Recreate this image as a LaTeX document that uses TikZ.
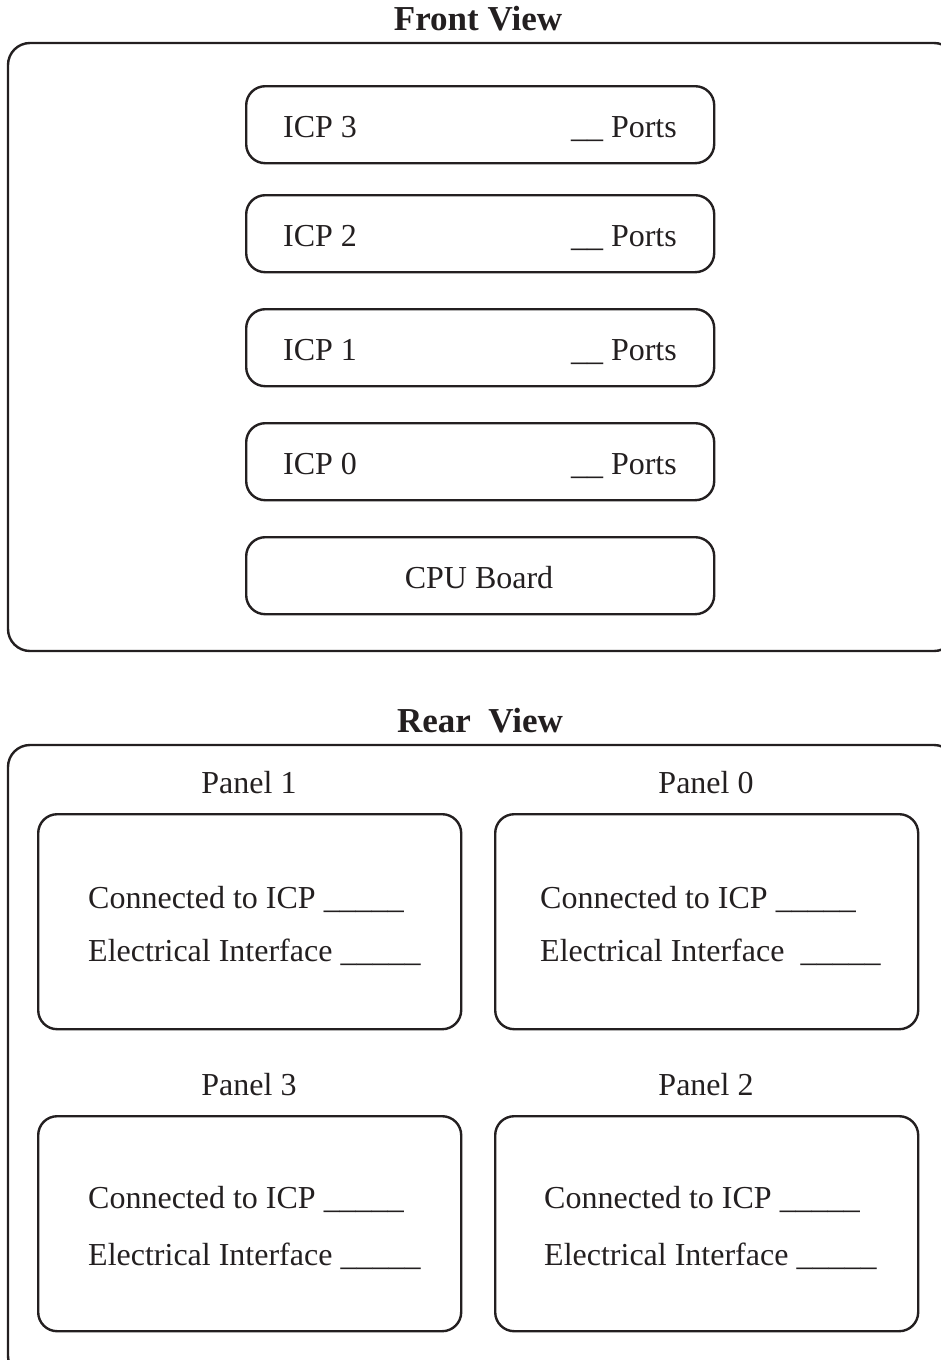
\documentclass[tikz,border=0pt]{standalone}
\usepackage{fontspec}
\setmainfont{Liberation Serif}
\definecolor{ink}{HTML}{231F20}
\begin{document}
\begin{tikzpicture}[x=1pt,y=-1pt,
  outer/.style={draw=ink,line width=2.4pt,rounded corners=22pt},
  box/.style={draw=ink,line width=2.4pt,rounded corners=19pt,inner sep=0pt},
  txt/.style={inner sep=0pt,text=ink,font=\fontsize{32}{38}\selectfont},
  ttl/.style={inner sep=0pt,text=ink,font=\fontsize{35}{42}\selectfont\bfseries}]
\useasboundingbox (0,0) rectangle (941,1360);
% Front view
\node[ttl,anchor=base] (ft) at (478,30) {Front View};
\draw[outer] (8,43) rectangle (956,651);
\foreach \n/\t/\b in {icp3/85/ICP 3,icp2/194/ICP 2,icp1/308/ICP 1,icp0/422/ICP 0}{
  \node[box,minimum width=468pt,minimum height=77pt,anchor=north west] (\n) at (245,\t) {};
  \node[txt,anchor=base west] (\n l) at (283,\t+52) {\b};
  \node[txt,anchor=base east] (\n r) at (677,\t+52) {\_\_ Ports};
}
\node[box,minimum width=468pt,minimum height=77pt,anchor=north west] (cpu) at (245,536) {};
\node[txt,anchor=base] (cpul) at (479,588) {CPU Board};
% Rear view
\node[ttl,anchor=base] (rt) at (480,732) {Rear\ \ View};
\draw[outer] (8,745) rectangle (956,1378);
\node[box,minimum width=423pt,minimum height=215pt,anchor=north west] (p1) at (37,813) {};
\node[box,minimum width=423pt,minimum height=215pt,anchor=north west] (p0) at (494,813) {};
\node[box,minimum width=423pt,minimum height=215pt,anchor=north west] (p3) at (37,1115) {};
\node[box,minimum width=423pt,minimum height=215pt,anchor=north west] (p2) at (494,1115) {};
\node[txt,anchor=base] (p1t) at (249,793) {Panel 1};
\node[txt,anchor=base] (p0t) at (706,793) {Panel 0};
\node[txt,anchor=base] (p3t) at (249,1095) {Panel 3};
\node[txt,anchor=base] (p2t) at (706,1095) {Panel 2};
\node[txt,anchor=base west] (p1a) at (88,908) {Connected to ICP \_\_\_\_\_};
\node[txt,anchor=base west] (p1b) at (88,961) {Electrical Interface \_\_\_\_\_};
\node[txt,anchor=base west] (p0a) at (540,908) {Connected to ICP \_\_\_\_\_};
\node[txt,anchor=base west] (p0b) at (540,961) {Electrical Interface\ \ \_\_\_\_\_};
\node[txt,anchor=base west] (p3a) at (88,1208) {Connected to ICP \_\_\_\_\_};
\node[txt,anchor=base west] (p3b) at (88,1265) {Electrical Interface \_\_\_\_\_};
\node[txt,anchor=base west] (p2a) at (544,1208) {Connected to ICP \_\_\_\_\_};
\node[txt,anchor=base west] (p2b) at (544,1265) {Electrical Interface \_\_\_\_\_};
\end{tikzpicture}
\end{document}
